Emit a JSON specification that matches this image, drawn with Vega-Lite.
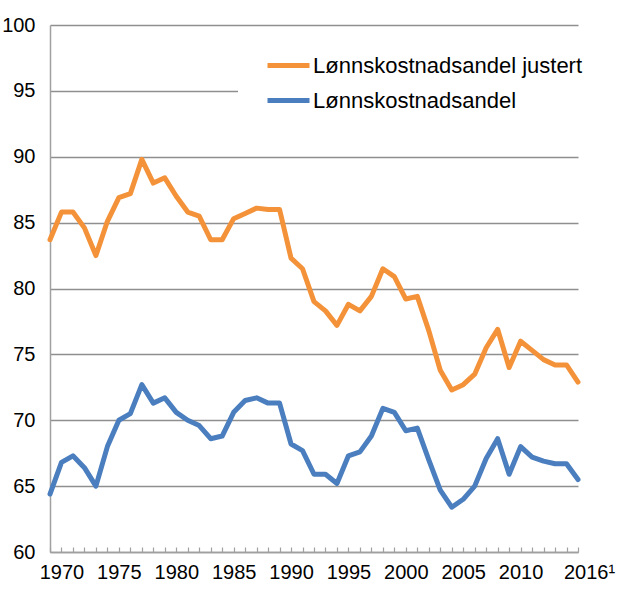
{
  "$schema": "https://vega.github.io/schema/vega-lite/v6.json",
  "width": 528,
  "height": 527,
  "autosize": {"type": "none"},
  "padding": {"left": 50, "top": 25, "right": 42, "bottom": 48},
  "background": "white",
  "config": {"view": {"stroke": null}, "font": "Liberation Sans"},
  "data": {"values": [
    {"year": 1969, "serie": "Lønnskostnadsandel justert", "value": 83.7},
    {"year": 1970, "serie": "Lønnskostnadsandel justert", "value": 85.8},
    {"year": 1971, "serie": "Lønnskostnadsandel justert", "value": 85.8},
    {"year": 1972, "serie": "Lønnskostnadsandel justert", "value": 84.6},
    {"year": 1973, "serie": "Lønnskostnadsandel justert", "value": 82.5},
    {"year": 1974, "serie": "Lønnskostnadsandel justert", "value": 85.1},
    {"year": 1975, "serie": "Lønnskostnadsandel justert", "value": 86.9},
    {"year": 1976, "serie": "Lønnskostnadsandel justert", "value": 87.2},
    {"year": 1977, "serie": "Lønnskostnadsandel justert", "value": 89.8},
    {"year": 1978, "serie": "Lønnskostnadsandel justert", "value": 88.0},
    {"year": 1979, "serie": "Lønnskostnadsandel justert", "value": 88.4},
    {"year": 1980, "serie": "Lønnskostnadsandel justert", "value": 87.0},
    {"year": 1981, "serie": "Lønnskostnadsandel justert", "value": 85.8},
    {"year": 1982, "serie": "Lønnskostnadsandel justert", "value": 85.5},
    {"year": 1983, "serie": "Lønnskostnadsandel justert", "value": 83.7},
    {"year": 1984, "serie": "Lønnskostnadsandel justert", "value": 83.7},
    {"year": 1985, "serie": "Lønnskostnadsandel justert", "value": 85.3},
    {"year": 1986, "serie": "Lønnskostnadsandel justert", "value": 85.7},
    {"year": 1987, "serie": "Lønnskostnadsandel justert", "value": 86.1},
    {"year": 1988, "serie": "Lønnskostnadsandel justert", "value": 86.0},
    {"year": 1989, "serie": "Lønnskostnadsandel justert", "value": 86.0},
    {"year": 1990, "serie": "Lønnskostnadsandel justert", "value": 82.3},
    {"year": 1991, "serie": "Lønnskostnadsandel justert", "value": 81.5},
    {"year": 1992, "serie": "Lønnskostnadsandel justert", "value": 79.0},
    {"year": 1993, "serie": "Lønnskostnadsandel justert", "value": 78.3},
    {"year": 1994, "serie": "Lønnskostnadsandel justert", "value": 77.2},
    {"year": 1995, "serie": "Lønnskostnadsandel justert", "value": 78.8},
    {"year": 1996, "serie": "Lønnskostnadsandel justert", "value": 78.3},
    {"year": 1997, "serie": "Lønnskostnadsandel justert", "value": 79.4},
    {"year": 1998, "serie": "Lønnskostnadsandel justert", "value": 81.5},
    {"year": 1999, "serie": "Lønnskostnadsandel justert", "value": 80.9},
    {"year": 2000, "serie": "Lønnskostnadsandel justert", "value": 79.2},
    {"year": 2001, "serie": "Lønnskostnadsandel justert", "value": 79.4},
    {"year": 2002, "serie": "Lønnskostnadsandel justert", "value": 76.8},
    {"year": 2003, "serie": "Lønnskostnadsandel justert", "value": 73.8},
    {"year": 2004, "serie": "Lønnskostnadsandel justert", "value": 72.3},
    {"year": 2005, "serie": "Lønnskostnadsandel justert", "value": 72.7},
    {"year": 2006, "serie": "Lønnskostnadsandel justert", "value": 73.5},
    {"year": 2007, "serie": "Lønnskostnadsandel justert", "value": 75.5},
    {"year": 2008, "serie": "Lønnskostnadsandel justert", "value": 76.9},
    {"year": 2009, "serie": "Lønnskostnadsandel justert", "value": 74.0},
    {"year": 2010, "serie": "Lønnskostnadsandel justert", "value": 76.0},
    {"year": 2011, "serie": "Lønnskostnadsandel justert", "value": 75.3},
    {"year": 2012, "serie": "Lønnskostnadsandel justert", "value": 74.6},
    {"year": 2013, "serie": "Lønnskostnadsandel justert", "value": 74.2},
    {"year": 2014, "serie": "Lønnskostnadsandel justert", "value": 74.2},
    {"year": 2015, "serie": "Lønnskostnadsandel justert", "value": 72.9},
    {"year": 1969, "serie": "Lønnskostnadsandel", "value": 64.4},
    {"year": 1970, "serie": "Lønnskostnadsandel", "value": 66.8},
    {"year": 1971, "serie": "Lønnskostnadsandel", "value": 67.3},
    {"year": 1972, "serie": "Lønnskostnadsandel", "value": 66.4},
    {"year": 1973, "serie": "Lønnskostnadsandel", "value": 65.0},
    {"year": 1974, "serie": "Lønnskostnadsandel", "value": 68.0},
    {"year": 1975, "serie": "Lønnskostnadsandel", "value": 70.0},
    {"year": 1976, "serie": "Lønnskostnadsandel", "value": 70.5},
    {"year": 1977, "serie": "Lønnskostnadsandel", "value": 72.7},
    {"year": 1978, "serie": "Lønnskostnadsandel", "value": 71.3},
    {"year": 1979, "serie": "Lønnskostnadsandel", "value": 71.7},
    {"year": 1980, "serie": "Lønnskostnadsandel", "value": 70.6},
    {"year": 1981, "serie": "Lønnskostnadsandel", "value": 70.0},
    {"year": 1982, "serie": "Lønnskostnadsandel", "value": 69.6},
    {"year": 1983, "serie": "Lønnskostnadsandel", "value": 68.6},
    {"year": 1984, "serie": "Lønnskostnadsandel", "value": 68.8},
    {"year": 1985, "serie": "Lønnskostnadsandel", "value": 70.6},
    {"year": 1986, "serie": "Lønnskostnadsandel", "value": 71.5},
    {"year": 1987, "serie": "Lønnskostnadsandel", "value": 71.7},
    {"year": 1988, "serie": "Lønnskostnadsandel", "value": 71.3},
    {"year": 1989, "serie": "Lønnskostnadsandel", "value": 71.3},
    {"year": 1990, "serie": "Lønnskostnadsandel", "value": 68.2},
    {"year": 1991, "serie": "Lønnskostnadsandel", "value": 67.7},
    {"year": 1992, "serie": "Lønnskostnadsandel", "value": 65.9},
    {"year": 1993, "serie": "Lønnskostnadsandel", "value": 65.9},
    {"year": 1994, "serie": "Lønnskostnadsandel", "value": 65.2},
    {"year": 1995, "serie": "Lønnskostnadsandel", "value": 67.3},
    {"year": 1996, "serie": "Lønnskostnadsandel", "value": 67.6},
    {"year": 1997, "serie": "Lønnskostnadsandel", "value": 68.8},
    {"year": 1998, "serie": "Lønnskostnadsandel", "value": 70.9},
    {"year": 1999, "serie": "Lønnskostnadsandel", "value": 70.6},
    {"year": 2000, "serie": "Lønnskostnadsandel", "value": 69.2},
    {"year": 2001, "serie": "Lønnskostnadsandel", "value": 69.4},
    {"year": 2002, "serie": "Lønnskostnadsandel", "value": 67.0},
    {"year": 2003, "serie": "Lønnskostnadsandel", "value": 64.7},
    {"year": 2004, "serie": "Lønnskostnadsandel", "value": 63.4},
    {"year": 2005, "serie": "Lønnskostnadsandel", "value": 64.0},
    {"year": 2006, "serie": "Lønnskostnadsandel", "value": 65.0},
    {"year": 2007, "serie": "Lønnskostnadsandel", "value": 67.1},
    {"year": 2008, "serie": "Lønnskostnadsandel", "value": 68.6},
    {"year": 2009, "serie": "Lønnskostnadsandel", "value": 65.9},
    {"year": 2010, "serie": "Lønnskostnadsandel", "value": 68.0},
    {"year": 2011, "serie": "Lønnskostnadsandel", "value": 67.2},
    {"year": 2012, "serie": "Lønnskostnadsandel", "value": 66.9},
    {"year": 2013, "serie": "Lønnskostnadsandel", "value": 66.7},
    {"year": 2014, "serie": "Lønnskostnadsandel", "value": 66.7},
    {"year": 2015, "serie": "Lønnskostnadsandel", "value": 65.5}
  ]},
  "mark": {"type": "line", "strokeWidth": 5, "strokeJoin": "round", "strokeCap": "round"},
  "encoding": {
    "x": {
      "field": "year",
      "type": "quantitative",
      "scale": {"domain": [1969, 2015], "nice": false, "zero": false},
      "axis": {
        "title": null,
        "grid": false,
        "values": [1969,1970,1971,1972,1973,1974,1975,1976,1977,1978,1979,1980,1981,1982,1983,1984,1985,1986,1987,1988,1989,1990,1991,1992,1993,1994,1995,1996,1997,1998,1999,2000,2001,2002,2003,2004,2005,2006,2007,2008,2009,2010,2011,2012,2013,2014,2015],
        "format": "d",
        "labelExpr": "datum.value == 2015 ? '2016¹' : (datum.value % 5 == 0 ? datum.label : '')",
        "labelOffset": {"condition": {"test": "datum.value == 2015", "value": 11}, "value": 0},
        "labelFontSize": 20,
        "labelColor": "black",
        "labelPadding": 15,
        "labelFlush": false,
        "labelOverlap": false,
        "tickSize": -5,
        "tickColor": "#A0A0A0",
        "tickWidth": 1.2,
        "domainColor": "#A0A0A0",
        "domainWidth": 1.5
      }
    },
    "y": {
      "field": "value",
      "type": "quantitative",
      "scale": {"domain": [60, 100], "nice": false, "zero": false},
      "axis": {
        "title": null,
        "values": [60, 65, 70, 75, 80, 85, 90, 95, 100],
        "grid": true,
        "gridColor": "#8F8F8F",
        "gridWidth": 1.3,
        "ticks": false,
        "domainColor": "#A0A0A0",
        "domainWidth": 1.5,
        "labelFontSize": 20,
        "labelColor": "black",
        "labelPadding": 15
      }
    },
    "color": {
      "field": "serie",
      "type": "nominal",
      "scale": {"domain": ["Lønnskostnadsandel justert", "Lønnskostnadsandel"], "range": ["#F4923A", "#4A7EBE"]},
      "legend": {
        "title": null,
        "orient": "none",
        "legendX": 188,
        "legendY": 5,
        "fillColor": "white",
        "padding": 12,
        "symbolType": "stroke",
        "symbolStrokeWidth": 5,
        "symbolSize": 1764,
        "symbolOffset": 15,
        "labelFontSize": 22,
        "labelColor": "black",
        "labelOffset": 1,
        "labelLimit": 400,
        "rowPadding": 0
      }
    }
  }
}
